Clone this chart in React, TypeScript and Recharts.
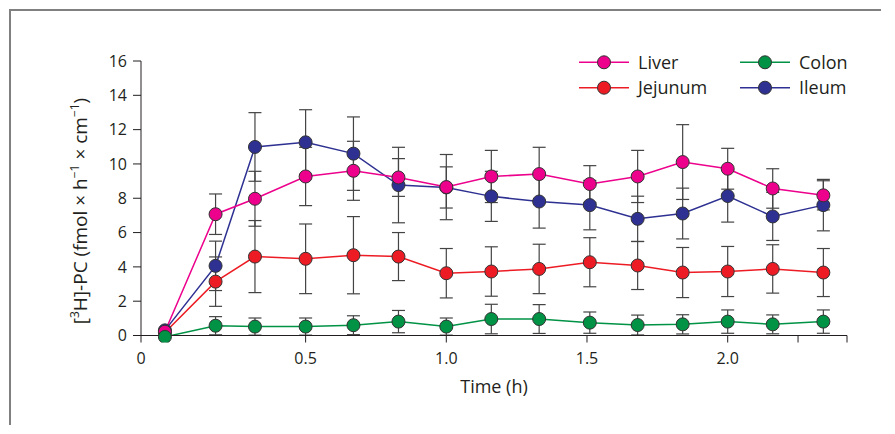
import React from 'react';
import { LineChart, Line, XAxis, YAxis, ErrorBar, Legend } from 'recharts';

// Time points (h)
const times = [0, 0.18, 0.32, 0.5, 0.67, 0.83, 1.0, 1.16, 1.33, 1.51, 1.68, 1.84, 2.0, 2.16, 2.34];

// Series means
const liver = [0.22, 7.07, 7.97, 9.27, 9.6, 9.21, 8.65, 9.27, 9.41, 8.83, 9.27, 10.11, 9.72, 8.57, 8.17];
const jejunum = [0.17, 3.14, 4.6, 4.47, 4.68, 4.6, 3.63, 3.73, 3.88, 4.27, 4.08, 3.67, 3.73, 3.88, 3.67];
const colon = [-0.08, 0.57, 0.52, 0.52, 0.6, 0.81, 0.52, 0.96, 0.96, 0.75, 0.61, 0.65, 0.81, 0.65, 0.81];
const ileum = [0.3, 4.06, 10.99, 11.26, 10.6, 8.77, 8.63, 8.11, 7.81, 7.6, 6.8, 7.11, 8.13, 6.94, 7.6];

// Error (SD)
const liverSd = [0, 1.18, 1.6, 1.7, 1.72, 1.1, 1.9, 1.52, 1.56, 1.07, 1.52, 2.18, 1.19, 1.15, 0.85];
const jejunumSd = [0, 1.44, 2.1, 2.03, 2.25, 1.4, 1.44, 1.44, 1.44, 1.43, 1.4, 1.46, 1.46, 1.41, 1.4];
const colonSd = [0, 0.53, 0.5, 0.5, 0.55, 0.65, 0.5, 0.86, 0.84, 0.62, 0.58, 0.56, 0.68, 0.55, 0.68];
const ileumSd = [0, 1.44, 2.0, 1.9, 2.14, 2.2, 1.2, 1.46, 1.55, 1.44, 1.32, 1.48, 1.52, 1.4, 1.5];

// Axis ticks
const xDomain = [-0.085, 2.424];
const xTickValues = [-0.085, 0.5, 1, 1.5, 2, 2.25, 2.424];
const xTickLabels = ['0', '0.5', '1.0', '1.5', '2.0', '', ''];
const yTicks = [0, 2, 4, 6, 8, 10, 12, 14, 16];

const series = [
  { key: 'ileum', name: 'Ileum', color: '#2E3192' },
  { key: 'jejunum', name: 'Jejunum', color: '#ED1C24' },
  { key: 'liver', name: 'Liver', color: '#EC008C' },
  { key: 'colon', name: 'Colon', color: '#009245' },
];

const data = times.map((t, i) => ({
  t,
  liver: liver[i],
  liverErr: liverSd[i],
  jejunum: jejunum[i],
  jejunumErr: jejunumSd[i],
  colon: colon[i],
  colonErr: colonSd[i],
  ileum: ileum[i],
  ileumErr: ileumSd[i],
}));

const FONT = '"Open Sans", "Noto Sans", sans-serif';
const INK = '#231F20';

const legendLayout: Record<string, { x: number; y: number }> = {
  Liver: { x: 19, y: 22.3 },
  Jejunum: { x: 19, y: 47.7 },
  Colon: { x: 180, y: 22.3 },
  Ileum: { x: 180, y: 47.7 },
};

const renderLegend = (props: any) => {
  const payload = props.payload || [];
  return (
    <svg width={300} height={70} style={{ display: 'block', overflow: 'visible' }}>
      {payload.map((p: any) => {
        const pos = legendLayout[p.value];
        if (!pos) return null;
        return (
          <g key={p.value}>
            <line x1={pos.x} x2={pos.x + 50} y1={pos.y} y2={pos.y} stroke={p.color} strokeWidth={1.5} />
            <circle cx={pos.x + 25} cy={pos.y} r={6.5} fill={p.color} stroke="#333" strokeWidth={1} />
            <text x={pos.x + 59} y={pos.y + 6.5} fontSize={18} fill={INK} fontFamily={FONT}>
              {p.value}
            </text>
          </g>
        );
      })}
    </svg>
  );
};

const YLabel = () => {
  const cx = 79;
  const cy = 203;
  return (
    <text
      x={cx}
      y={cy}
      transform={`rotate(-90, ${cx}, ${cy})`}
      textAnchor="middle"
      fontSize={19}
      fill={INK}
      fontFamily={FONT}
    >
      [<tspan baselineShift="super" fontSize={12}>3</tspan>H]-PC (fmol × h
      <tspan baselineShift="super" fontSize={12}>−1</tspan> × cm
      <tspan baselineShift="super" fontSize={12}>−1</tspan>)
    </text>
  );
};

const XLabel = (props: any) => {
  const vb = props.viewBox || { x: 133, y: 327.5, width: 706, height: 70 };
  return (
    <text
      x={vb.x + vb.width / 2}
      y={vb.y + 57.5}
      textAnchor="middle"
      fontSize={18}
      fill={INK}
      fontFamily={FONT}
    >
      Time (h)
    </text>
  );
};

export default function App() {
  return (
    <div style={{ position: 'relative', width: 879, height: 418 }}>
      <div
        style={{
          position: 'absolute',
          left: 1,
          top: 1,
          width: 870,
          height: 414,
          borderLeft: '2px solid #808080',
          borderTop: '2px solid #808080',
        }}
      />
      <div style={{ position: 'absolute', left: 0, top: 0 }}>
        <LineChart
          width={879}
          height={418}
          data={data}
          margin={{ top: 53, right: 40, bottom: 20.5, left: 0 }}
          style={{ fontFamily: FONT }}
        >
          <XAxis
            dataKey="t"
            type="number"
            domain={xDomain}
            ticks={xTickValues}
            interval={0}
            allowDataOverflow
            tickFormatter={(v: number, i: number) => xTickLabels[i] ?? ''}
            tickSize={7}
            tickMargin={10}
            height={70}
            stroke={INK}
            tick={{ fontSize: 16, fill: INK, fontFamily: FONT }}
            label={{ content: XLabel }}
          />
          <YAxis
            type="number"
            domain={[0, 16]}
            ticks={yTicks}
            interval={0}
            allowDataOverflow
            width={133}
            tickSize={8}
            tickMargin={6}
            stroke={INK}
            tick={{ fontSize: 16, fill: INK, fontFamily: FONT }}
            label={{ content: YLabel }}
          />
          <Legend
            layout="horizontal"
            verticalAlign="middle"
            align="center"
            content={renderLegend}
            wrapperStyle={{ position: 'absolute', left: 552, top: 32, width: 300, height: 70 }}
          />
          {series.map((s) => (
            <Line
              key={s.key}
              dataKey={s.key}
              name={s.name}
              stroke={s.color}
              strokeWidth={1.5}
              isAnimationActive={false}
              activeDot={false}
              dot={{ r: 6.5, fill: s.color, stroke: '#333', strokeWidth: 1, clipDot: false }}
            >
              <ErrorBar
                dataKey={`${s.key}Err`}
                direction="y"
                width={6.5}
                stroke="#444"
                strokeWidth={1.2}
                isAnimationActive={false}
              />
            </Line>
          ))}
        </LineChart>
      </div>
    </div>
  );
}
